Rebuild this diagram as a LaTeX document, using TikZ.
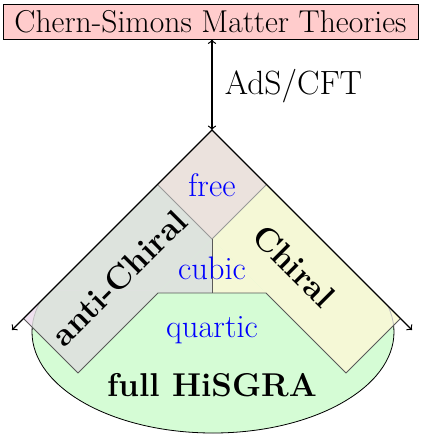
\documentclass[tikz,border=0pt]{standalone}
\usepackage{fontspec}
\definecolor{acol}{RGB}{239,225,239}
\definecolor{acolG}{RGB}{221,227,221}
\definecolor{ccol}{RGB}{250,250,216}
\definecolor{ccolG}{RGB}{245,248,214}
\definecolor{dcol}{RGB}{235,226,221}
\definecolor{qgreen}{RGB}{213,252,213}
\definecolor{titlepink}{RGB}{255,204,204}
\begin{document}
\begin{tikzpicture}[x=0.5pt,y=-0.5pt,
  lbl/.style={text=blue,font=\fontsize{16.3}{19}\selectfont,inner sep=0pt},
  bigb/.style={font=\fontsize{16.5}{20}\selectfont\bfseries,inner sep=0pt},
  regedge/.style={draw=black!65,line width=0.4pt},
  faint/.style={draw=black!25,line width=0.4pt},
  outerline/.style={line width=0.6pt,-to},
  dbl/.style={line width=0.6pt,<->}]
\useasboundingbox (0,0) rectangle (423,435);
% key points
\coordinate (apex) at (212,130);
\coordinate (aL) at (23.5,318.5);
\coordinate (aB) at (78,373);
\coordinate (dR) at (266.5,184.5);
\coordinate (dL) at (157.5,184.5);
\coordinate (cR) at (400.5,318.5);
\coordinate (cB) at (346,373);
\coordinate (dB) at (212,239);
\coordinate (qL) at (158,293);
\coordinate (qR) at (266,293);
\coordinate (qM) at (212,293);
\coordinate (tL) at (12,330);
\coordinate (tR) at (412,330);
\coordinate (ec) at (213,332);
% ellipse (only inside the cone)
\begin{scope}
  \clip (212,130) -- (0,342) -- (0,435) -- (423,435) -- (423,341) -- cycle;
  \fill[qgreen] (ec) ellipse [x radius=181, y radius=101];
  \clip (0,295) rectangle (423,435);
  \draw[line width=0.4pt] (ec) ellipse [x radius=181, y radius=101];
\end{scope}
% rectangles (on green backing)
\fill[acolG] (apex) -- (aL) -- (aB) -- (dR) -- cycle;
\fill[ccolG] (apex) -- (cR) -- (cB) -- (dL) -- cycle;
% corners of rectangles outside the ellipse
\begin{scope}
  \clip (apex) -- (aL) -- (aB) -- (dR) -- cycle;
  \clip (0,290) rectangle (212,435);
  \fill[acol, even odd rule] (0,290) rectangle (212,435) (ec) ellipse [x radius=181, y radius=101];
  \draw[faint] (ec) ellipse [x radius=181, y radius=101];
\end{scope}
\begin{scope}
  \clip (apex) -- (cR) -- (cB) -- (dL) -- cycle;
  \clip (212,290) rectangle (423,435);
  \fill[ccol, even odd rule] (212,290) rectangle (423,435) (ec) ellipse [x radius=181, y radius=101];
  \draw[faint] (ec) ellipse [x radius=181, y radius=101];
\end{scope}
% diamond (free)
\fill[dcol] (apex) -- (dL) -- (dB) -- (dR) -- cycle;
% cubic halves
\fill[acolG] (dB) -- (qM) -- (qL) -- cycle;
\fill[ccolG] (dB) -- (qM) -- (qR) -- cycle;
% quartic polygon
\fill[qgreen] (aB) -- (qL) -- (qR) -- (cB) -- cycle;
\draw[regedge] (aB) -- (qL) -- (qR) -- (cB);
% edges
\draw[regedge] (aL) -- (aB);
\draw[regedge] (cR) -- (cB);
\draw[draw=black!40,line width=0.4pt] (dL) -- (dB) -- (dR);
\draw[regedge] (dB) -- (qM);
% outer lines
\draw[outerline] (apex) -- (tL);
\draw[outerline] (apex) -- (tR);
% title and AdS/CFT arrow
\node[draw, fill=titlepink, line width=0.5pt, minimum width=207.5pt, minimum height=17.5pt, inner sep=0pt,
  font=\fontsize{15.8}{18}\selectfont] (cs) at (210.5,21.5) {Chern-Simons Matter Theories};
\draw[dbl] (cs.south -| apex) -- (apex);
\node[font=\fontsize{16.8}{19}\selectfont, inner sep=0pt] (ads) at (293.5,86) {AdS/CFT};
% labels
\node[lbl] (free) at (212,185) {free};
\node[lbl] (cubic) at (212,268) {cubic};
\node[lbl] (quartic) at (212,330) {quartic};
\node[bigb] (full) at (212,385) {full HiSGRA};
\node[bigb, rotate=45] (anti) at (119,278) {anti-Chiral};
\node[bigb, rotate=-45] (chiral) at (294,266) {Chiral};
\end{tikzpicture}
\end{document}
